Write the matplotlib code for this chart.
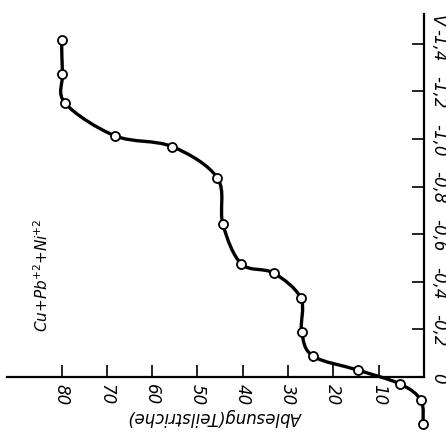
import numpy as np
import matplotlib.pyplot as plt
from matplotlib.path import Path
from matplotlib.patches import PathPatch

# readings (Teilstriche) against applied voltage (V)
ablesung = [80.0, 79.8, 79.2, 68.2, 55.6, 45.6, 44.4, 40.3, 33.2, 27.2,
            27.0, 24.5, 14.6, 5.3, 0.7, 0.2]
voltage = [-1.417, -1.274, -1.150, -1.013, -0.968, -0.836, -0.642, -0.475,
           -0.437, -0.332, -0.189, -0.088, -0.029, 0.029, 0.097, 0.197]

a_ticks = [80, 70, 60, 50, 40, 30, 20, 10]
a_labels = ["80", "70", "60", "50", "40", "30", "20", "10"]
v_ticks = [0, -0.2, -0.4, -0.6, -0.8, -1.0, -1.2, -1.4]
v_labels = ["0", "-0,2", "-0,4", "-0,6", "-0,8", "-1,0", "-1,2", "-1,4"]

plt.rcParams['font.family'] = ['Liberation Sans Narrow', 'DejaVu Sans']


def smooth_path(xs, ys):
    # catmull-rom through the measured points, as cubic bezier segments
    p = np.column_stack([xs, ys])
    n = len(p)
    verts = [p[0]]
    codes = [Path.MOVETO]
    for i in range(n - 1):
        p0 = p[max(i - 1, 0)]
        p1 = p[i]
        p2 = p[i + 1]
        p3 = p[min(i + 2, n - 1)]
        c1 = p1 + (p2 - p0) / 6.0
        c2 = p2 - (p3 - p1) / 6.0
        verts += [c1, c2, p2]
        codes += [Path.CURVE4] * 3
    return Path(verts, codes)


def main():
    W, H = 446, 435
    fig = plt.figure(figsize=(W / 100, H / 100), dpi=100)
    left, right, top, bottom = 7, 424, 15, 378
    ax = fig.add_axes([left / W, 1 - bottom / H, (right - left) / W, (bottom - top) / H])

    ax.set_xlim(92.05, 0)
    ax.set_ylim(0, -1.525)

    for s in ["top", "left"]:
        ax.spines[s].set_visible(False)
    for s in ["bottom", "right"]:
        ax.spines[s].set_linewidth(1.6)

    ax.xaxis.set_ticks_position("bottom")
    ax.yaxis.set_ticks_position("right")
    ax.set_xticks(a_ticks)
    ax.set_xticklabels(a_labels, rotation=-90, style="italic", fontsize=12)
    ax.set_yticks(v_ticks)
    ax.set_yticklabels(v_labels, rotation=-90, style="italic", fontsize=12,
                       va="center", ha="center")
    ax.tick_params(axis="both", direction="in", length=8.5, width=1.2)
    ax.tick_params(axis="x", pad=4)
    ax.tick_params(axis="y", pad=10)

    ax.set_xlabel("Ablesung(Teilstriche)", rotation=180, style="italic",
                  fontsize=12, labelpad=2)

    ax.text(-2.9, -1.50, "V", rotation=-90, style="italic", fontsize=12,
            ha="center", va="center", clip_on=False)
    ax.text(84.3, -0.433, "Cu+Pb$^{+2}$+Ni$^{+2}$", rotation=90,
            style="italic", fontsize=11, ha="center", va="center")

    curve = PathPatch(smooth_path(ablesung, voltage), fill=False,
                      lw=2.4, color="black", clip_on=False, zorder=3)
    ax.add_patch(curve)
    ax.plot(ablesung, voltage, "o", ms=6.5, mfc="white", mec="black",
            mew=1.3, clip_on=False, zorder=4)

    fig.savefig("out.png", dpi=100)


if __name__ == "__main__":
    main()
